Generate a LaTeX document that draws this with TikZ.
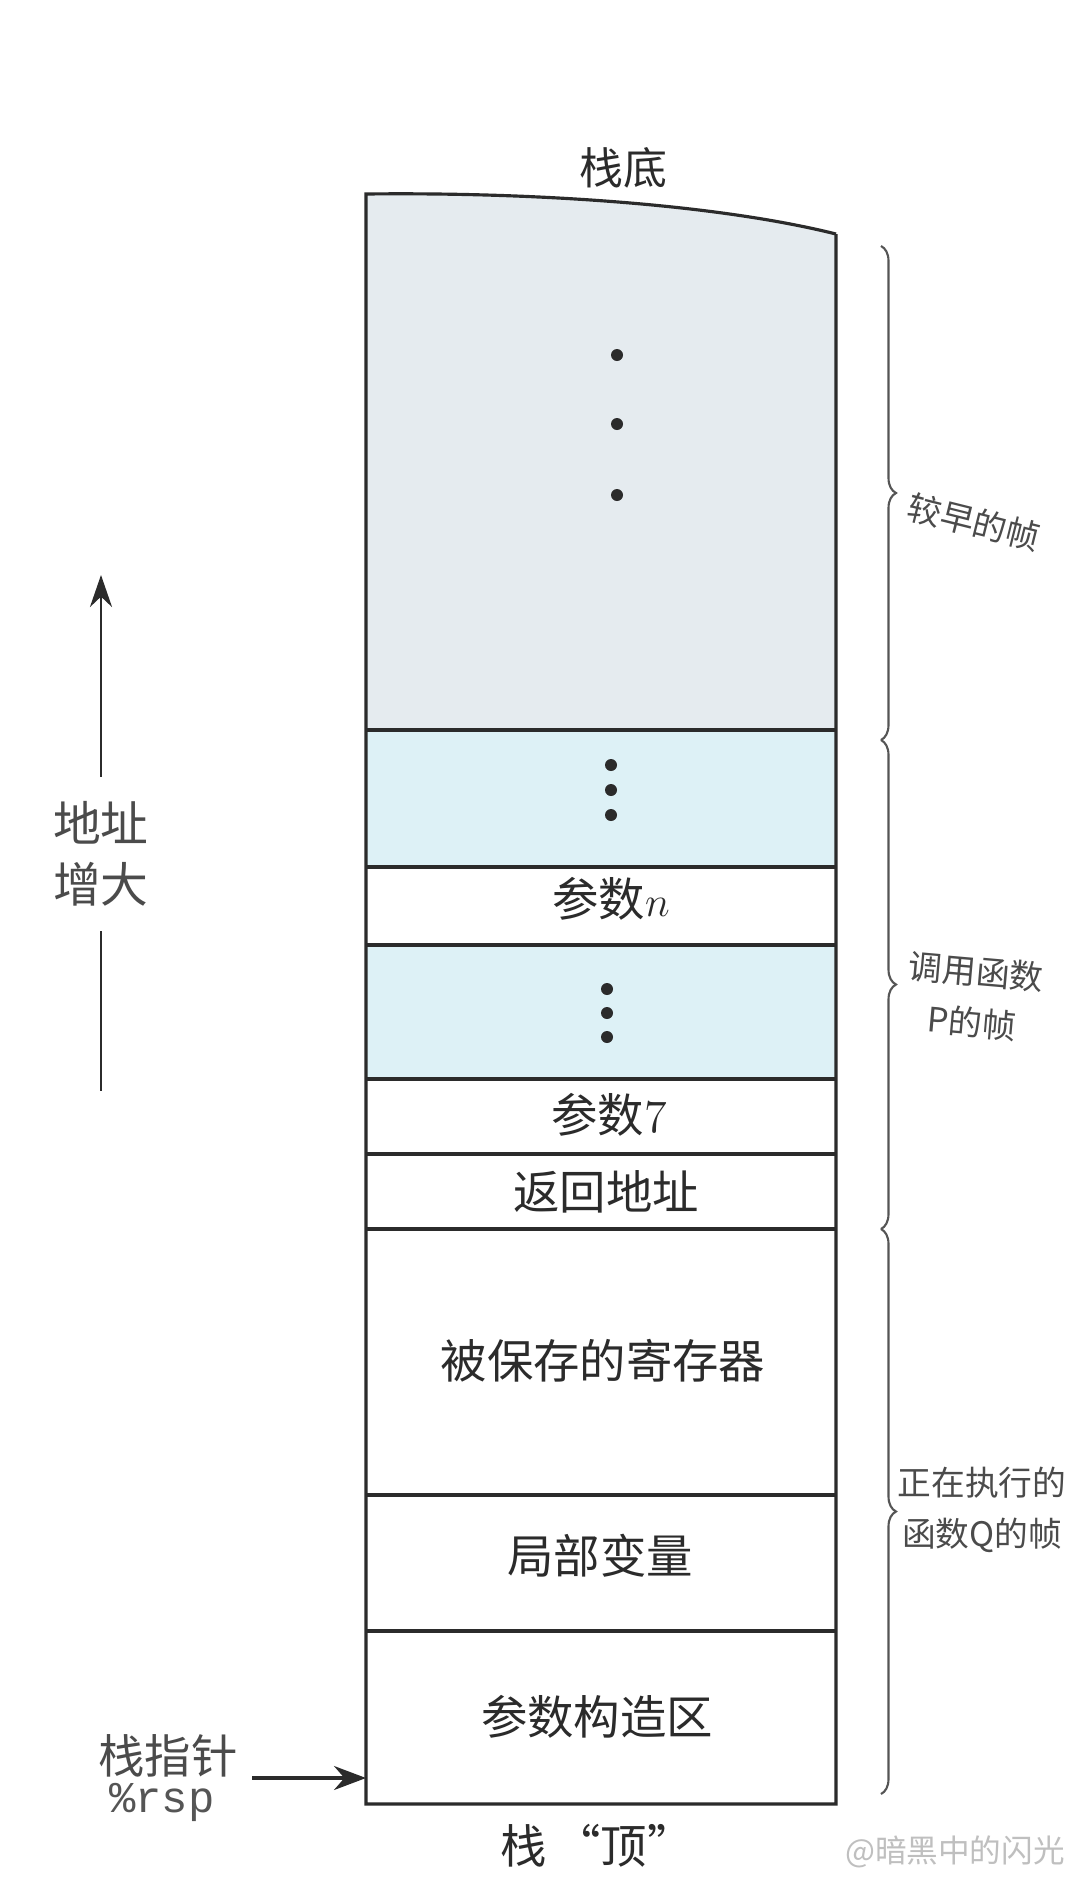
\documentclass[tikz,border=0pt]{standalone}
\usepackage{fontspec}
\newfontfamily\cjk{Noto Sans CJK SC}
\newfontfamily\rspfont{Liberation Mono}
\usetikzlibrary{decorations.pathreplacing,arrows.meta}
\definecolor{ink}{HTML}{2B2B2B}
\definecolor{oldgray}{HTML}{E5EBEF}
\definecolor{callblue}{HTML}{DDF1F6}
\tikzset{
  cellline/.style={draw=ink,line width=0.9pt},
  celltext/.style={font=\cjk\fontsize{13.2}{16}\selectfont,text=ink},
  sidetext/.style={font=\cjk\fontsize{9.6}{14.5}\selectfont,text=ink!85,align=center},
  stackdot/.style={circle,fill=ink,inner sep=0pt,minimum size=1.2mm},
  framebrace/.style={draw=ink!80,line width=0.6pt,decorate,decoration={brace,amplitude=1.5mm}}
}
\begin{document}
\begin{tikzpicture}[x=0.1mm,y=-0.1mm]
      \useasboundingbox[fill=white] (0,0) rectangle (1080,1880);
      \coordinate (TL) at (366,194);
      \coordinate (TR) at (836,234);
      \coordinate (BL) at (366,1804);
      \coordinate (BR) at (836,1804);
      \fill[oldgray] (TL) .. controls (540,192) and (720,205) .. (TR) -- (836,730) -- (366,730) -- cycle;
      \fill[callblue] (366,730) rectangle (836,867);
      \fill[callblue] (366,945) rectangle (836,1079);
      \foreach \y in {730,867,945,1079,1154,1229,1495,1631}
        \draw[cellline] (366,\y) -- (836,\y);
      \draw[cellline] (TR) -- (BR) -- (BL) -- (TL) .. controls (540,192) and (720,205) .. (TR);
      \node[celltext,font=\cjk\fontsize{12.5}{15}\selectfont] (bottom) at (623,168) {栈底};
      \foreach \y [count=\i] in {355,424,495}
        \node[stackdot] (olddot\i) at (617,\y) {};
      \foreach \y [count=\i] in {765,790,815}
        \node[stackdot] (argdot\i) at (611,\y) {};
      \node[celltext] (argn) at (611,899) {参数$n$};
      \foreach \y [count=\i] in {989,1013,1037}
        \node[stackdot] (midot\i) at (607,\y) {};
      \node[celltext] (arg7) at (609,1115) {参数{\fontspec{Latin Modern Roman}7}};
      \node[celltext] (retaddr) at (606,1192) {返回地址};
      \node[celltext] (saved) at (603,1361) {被保存的寄存器};
      \node[celltext] (locals) at (600,1556) {局部变量};
      \node[celltext] (argbuild) at (597,1717) {参数构造区};
      \node[celltext] (top) at (597,1846) {栈\,“顶”};
      \draw[framebrace] (881,246) -- (881,740);
      \draw[framebrace] (881,740) -- (881,1229);
      \draw[framebrace] (881,1229) -- (881,1794);
      \node[sidetext,rotate=-14] (older) at (974,522) {较早的帧};
      \node[sidetext,rotate=-5] (caller) at (974,997) {调用函数\\P的帧};
      \node[sidetext] (callee) at (982,1510) {正在执行的\\函数Q的帧};
      \node[font=\cjk\fontsize{13.6}{17.5}\selectfont,text=ink!85,align=center] (grow) at (101,854) {地址\\增大};
      \coordinate (growtop) at (101,575);
      \coordinate (growbot) at (101,1091);
      \draw[ink,line width=0.8pt,-{Stealth[length=3.2mm,width=2.2mm]}] (grow.north) ++(0,-12) -- (growtop);
      \draw[ink,line width=0.8pt] (grow.south) ++(0,12) -- (growbot);
      \node[celltext,text=ink!85] (sp) at (168,1756) {栈指针};
      \node[font=\rspfont\fontsize{12.5}{15}\selectfont,text=ink!80] (rsp) at (162,1802) {\%rsp};
      \coordinate (spfrom) at (252,1778);
      \coordinate (spto) at (BL |- spfrom);
      \draw[ink,line width=0.9pt,-{Stealth[length=3.2mm,width=2.4mm]}] (spfrom) -- (spto);
      \node[font=\cjk\fontsize{9}{11}\selectfont,text=black!25] (mark) at (955,1852) {@暗黑中的闪光};
\end{tikzpicture}
\end{document}
